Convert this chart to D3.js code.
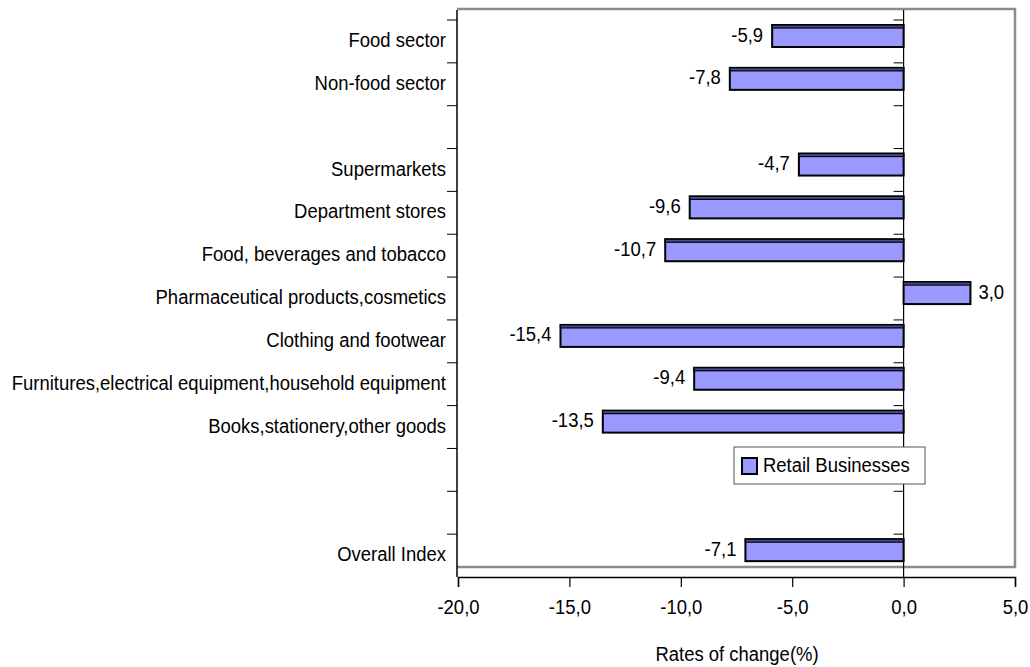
<!DOCTYPE html>
<html lang="en">
<head>
<meta charset="UTF-8">
<title>Retail Businesses - rates of change</title>
<script src="https://d3js.org/d3.v7.min.js"></script>
<style>
    body { margin: 0; background: #fff; }
    svg text {
        font-family: "Liberation Sans", Arial, sans-serif;
        font-size: 21px;
        fill: #000;
    }
</style>
</head>
<body>
<svg id="chart"></svg>
<script>
    // categories top to bottom, blank slots are gaps in the original chart
    var categories = ["Food sector", "Non-food sector", "", "Supermarkets", "Department stores",
        "Food, beverages and tobacco", "Pharmaceutical products,cosmetics", "Clothing and footwear",
        "Furnitures,electrical equipment,household equipment", "Books,stationery,other goods", "", "", "Overall Index"];
    var values = [-5.9, -7.8, null, -4.7, -9.6, -10.7, 3.0, -15.4, -9.4, -13.5, null, null, -7.1];
    var xTicks = [-20, -15, -10, -5, 0, 5];
    var seriesName = "Retail Businesses";
    var axisTitle = "Rates of change(%)";

    var width = 1030, height = 667;
    var left = 457, right = 1015, plotTop = 9, bandTop = 20, axisY = 577, frameBottom = 567;
    // the original font is a bit condensed, squeeze text horizontally
    var squeeze = 0.88;

    var svg = d3.select("#chart").attr("width", width).attr("height", height);

    var x = d3.scaleLinear().domain([-20, 5]).range([left + 1, right]);
    var keys = categories.map(function (c, i) { return "k" + i; });
    var y = d3.scaleBand().domain(keys).range([bandTop, axisY]).padding(0);
    var fmt = function (v) { return d3.format(".1f")(v).replace(".", ",").replace("\u2212", "-"); };
    var at = function (px, py) {
        return "translate(" + px + "," + py + ") scale(" + squeeze + ",1)";
    };

    // gray plot frame
    svg.append("path")
        .attr("d", "M" + left + "," + plotTop + "H" + right + "V" + frameBottom + "H" + left)
        .attr("fill", "none").attr("stroke", "#8c8c8c").attr("stroke-width", 2.5);

    // left axis line + ticks at band boundaries
    svg.append("line").attr("x1", left).attr("x2", left).attr("y1", plotTop + 1).attr("y2", axisY)
        .attr("stroke", "#000").attr("stroke-width", 1.5);
    var bounds = keys.map(function (k) { return y(k); });
    svg.selectAll(".ltick").data(bounds).enter().append("line")
        .attr("x1", left - 10).attr("x2", left)
        .attr("y1", function (d) { return d; }).attr("y2", function (d) { return d; })
        .attr("stroke", "#000").attr("stroke-width", 1);

    // zero line + its ticks
    svg.append("line").attr("x1", x(0)).attr("x2", x(0)).attr("y1", plotTop + 1).attr("y2", axisY)
        .attr("stroke", "#000").attr("stroke-width", 1.2);
    svg.selectAll(".ztick").data(bounds).enter().append("line")
        .attr("x1", x(0) - 10).attr("x2", x(0))
        .attr("y1", function (d) { return d; }).attr("y2", function (d) { return d; })
        .attr("stroke", "#000").attr("stroke-width", 1);

    // category labels
    svg.selectAll(".cat").data(categories).enter().append("text")
        .attr("transform", function (d, i) { return at(left - 11, y(keys[i]) + y.bandwidth() / 2); })
        .attr("text-anchor", "end").attr("dominant-baseline", "middle")
        .text(function (d) { return d; });

    // bars
    var rows = values.map(function (v, i) { return { v: v, k: keys[i] }; })
        .filter(function (d) { return d.v !== null; });
    var bars = svg.selectAll(".bar").data(rows).enter().append("g");
    bars.append("rect")
        .attr("x", function (d) { return x(Math.min(0, d.v)); })
        .attr("y", function (d) { return y(d.k) + 5; })
        .attr("width", function (d) { return Math.abs(x(d.v) - x(0)); })
        .attr("height", 22)
        .attr("fill", "#9999ff").attr("stroke", "#000").attr("stroke-width", 2);
    bars.append("rect")
        .attr("x", function (d) { return x(Math.min(0, d.v)); })
        .attr("y", function (d) { return y(d.k) + 5; })
        .attr("width", function (d) { return Math.abs(x(d.v) - x(0)); })
        .attr("height", 3)
        .attr("fill", "#4b4b8f").attr("stroke", "#000").attr("stroke-width", 1.2);
    bars.append("text")
        .attr("transform", function (d) {
            return at(d.v < 0 ? x(d.v) - 9 : x(d.v) + 8, y(d.k) + 16);
        })
        .attr("text-anchor", function (d) { return d.v < 0 ? "end" : "start"; })
        .attr("dominant-baseline", "middle")
        .text(function (d) { return fmt(d.v); });

    // x axis
    var xAxis = d3.axisBottom(x).tickValues(xTicks).tickSize(10).tickPadding(12).tickFormat(fmt);
    var gx = svg.append("g").attr("transform", "translate(0," + axisY + ")").call(xAxis);
    gx.attr("font-size", null).attr("font-family", null);
    gx.select(".domain").attr("stroke", "#000").attr("stroke-width", 1.5);
    gx.selectAll(".tick line").attr("stroke", "#000").attr("stroke-width", 1.2);
    gx.selectAll(".tick text").attr("transform", "scale(" + squeeze + ",1)");

    svg.append("text").attr("transform", at(737, 655))
        .attr("text-anchor", "middle").attr("dominant-baseline", "middle")
        .text(axisTitle);

    // legend
    var lg = svg.append("g").attr("transform", "translate(734,447)");
    lg.append("rect").attr("width", 191).attr("height", 37)
        .attr("fill", "#fff").attr("stroke", "#555").attr("stroke-width", 1);
    lg.append("rect").attr("x", 8).attr("y", 11).attr("width", 15).attr("height", 16)
        .attr("fill", "#9999ff").attr("stroke", "#000").attr("stroke-width", 2);
    lg.append("text").attr("transform", at(29, 19)).attr("dominant-baseline", "middle")
        .text(seriesName);
</script>
</body>
</html>
